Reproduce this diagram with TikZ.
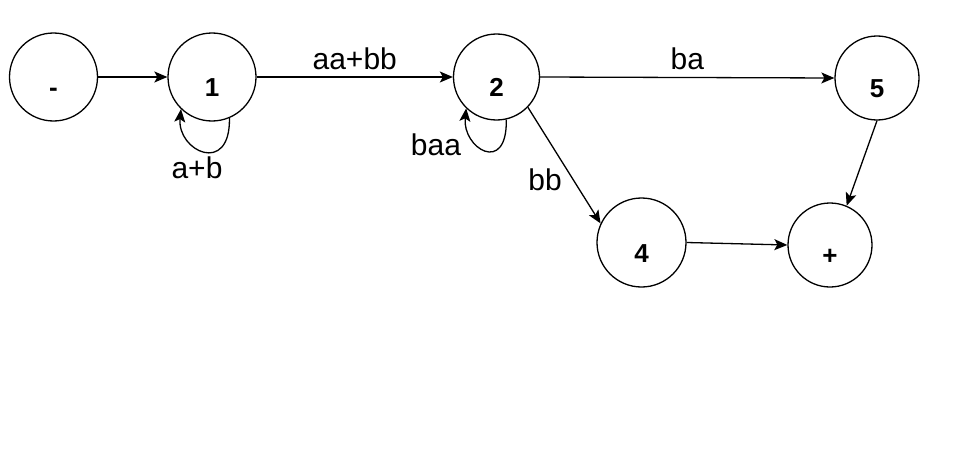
\documentclass[tikz,border=0pt]{standalone}
\usepackage{fontspec}
\setmainfont{Liberation Sans}
\usetikzlibrary{shapes.geometric,arrows.meta}
\begin{document}
\begin{tikzpicture}[x=1pt,y=-1pt,
  st/.style={draw,circle,line width=1.3pt,inner sep=0pt,
    font=\fontsize{26}{26}\selectfont\bfseries,text height=39pt,text depth=0pt},
  ed/.style={line width=1.3pt,-{Stealth[length=13pt,width=11pt,inset=3pt]}},
  lb/.style={font=\fontsize{30}{30}\selectfont,inner sep=0pt}]
\useasboundingbox (0,0) rectangle (971,460);
\node[st,minimum size=88pt] (m) at (53.5,77) {-};
\node[st,minimum size=88pt] (n1) at (212,77) {1};
\node[st,minimum size=86pt] (n2) at (496.5,77) {2};
\node[st,minimum size=84pt] (n5) at (877,78) {5};
\node[st,minimum size=89pt] (n4) at (641.5,242.5) {4};
\node[st,minimum size=84pt] (np) at (830,245) {+};
\draw[ed] (m.east) -- (n1.west);
\draw[ed] (n1.east) -- node[lb,above=7pt] (l12) {aa+bb} (n2.west);
\draw[ed] (n2.east) -- node[lb,above=7pt] (l25) {ba} (n5.west);
\draw[ed] (n2.-44.5) -- (n4.155);
\node[lb] (l24) at (545,180) {bb};
\draw[ed] (n5.south) -- (np.67);
\draw[ed] (n4.east) -- (np.west);
\draw[ed] (n1.-67) .. controls +(1,58) and +(-4,42) .. (n1.-134);
\node[lb] (l11) at (197,168) {a+b};
\draw[ed] (n2.-77) .. controls +(1,56) and +(-4,40) .. (n2.-134);
\node[lb] (l22) at (436,145) {baa};
\end{tikzpicture}
\end{document}
